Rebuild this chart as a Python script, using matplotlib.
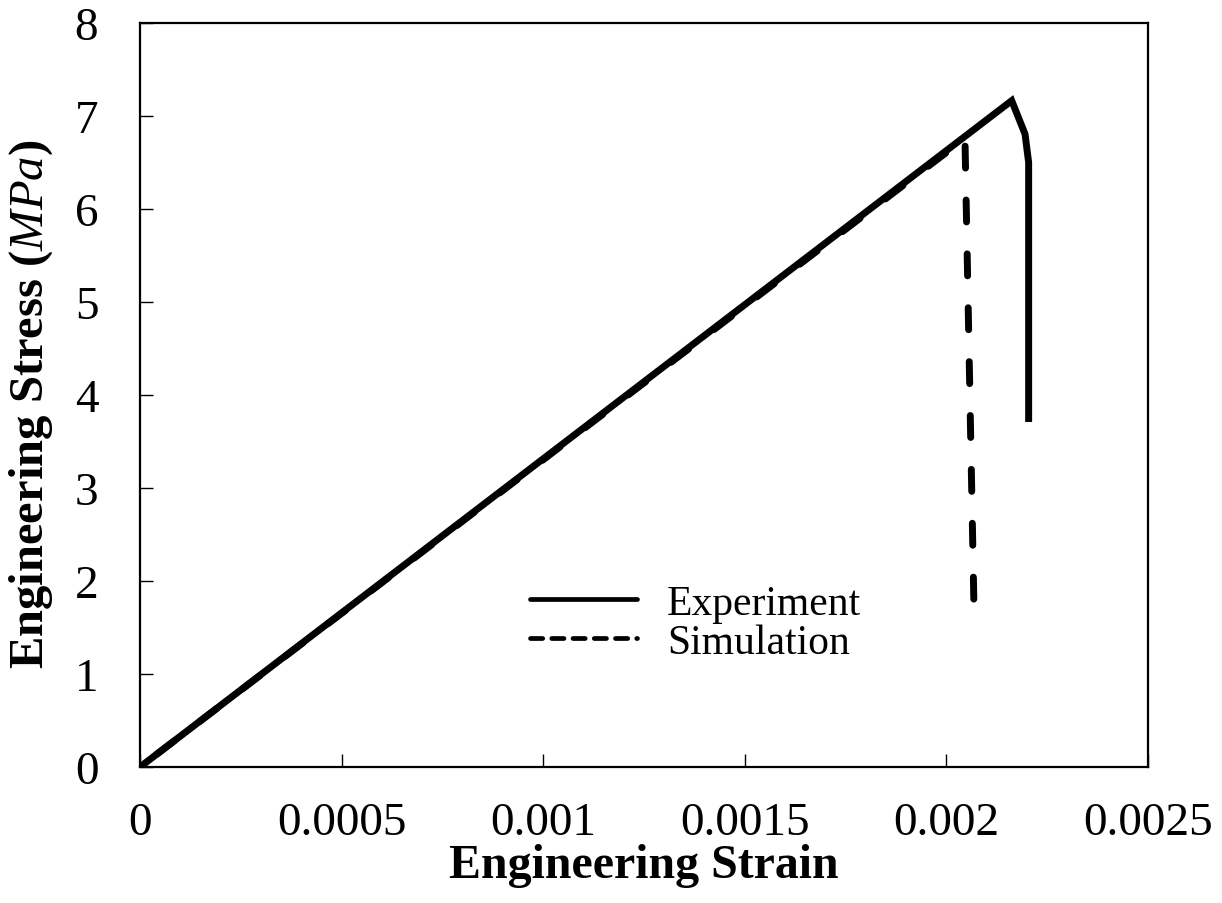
import matplotlib
matplotlib.use("Agg")
import matplotlib.pyplot as plt
from matplotlib.lines import Line2D

# Data
exp_strain = [0.0, 0.002162, 0.002195, 0.002204, 0.002204]
exp_stress = [0.0, 7.165, 6.806, 6.50, 3.71]
sim_strain = [0.0, 0.002046, 0.002068]
sim_stress = [0.0, 6.76, 1.80]
series_labels = ["Experiment", "Simulation"]
x_ticks = [0, 0.0005, 0.001, 0.0015, 0.002, 0.0025]
x_tick_labels = ["0", "0.0005", "0.001", "0.0015", "0.002", "0.0025"]
y_ticks = [0, 1, 2, 3, 4, 5, 6, 7, 8]

plt.rcParams["font.family"] = ["Liberation Serif", "DejaVu Serif"]
plt.rcParams["mathtext.fontset"] = "custom"
plt.rcParams["mathtext.rm"] = "Liberation Serif"
plt.rcParams["mathtext.it"] = "Liberation Serif:italic"
plt.rcParams["mathtext.bf"] = "Liberation Serif:bold"
plt.rcParams["lines.scale_dashes"] = False

fig = plt.figure(figsize=(12.22, 9.04), dpi=100)
ax = fig.add_axes([140/1222, 1-768/904, 1008/1222, 744/904])

ax.plot(sim_strain, sim_stress, color="black", lw=5, ls=(23.6, (15.8, 23)),
        dash_capstyle="round", zorder=2)
ax.plot(exp_strain, exp_stress, color="black", lw=5, solid_joinstyle="miter",
        solid_capstyle="butt", zorder=3)

ax.set_xlim(0, 0.0025)
ax.set_ylim(0, 8)
ax.set_xticks(x_ticks)
ax.set_xticklabels(x_tick_labels)
ax.set_yticks(y_ticks)

ax.tick_params(axis="both", direction="in", length=9.4, width=1.0,
               labelsize=34, top=False, right=False)
ax.tick_params(axis="x", pad=25)
ax.tick_params(axis="y", pad=30)
for s in ax.spines.values():
    s.set_linewidth(1.6)

ax.set_xlabel("Engineering Strain", fontsize=34.5, fontweight="bold")
ax.set_ylabel(r"Engineering Stress ($\mathit{MPa}$)", fontsize=35, fontweight="bold")
ax.xaxis.set_label_coords(0.5, -0.102)
ax.yaxis.set_label_coords(-0.084, 0.489)

handles = [
    Line2D([], [], color="black", lw=3.4, solid_capstyle="round"),
    Line2D([], [], color="black", lw=3.4, dashes=(8.8, 6.5), dash_capstyle="round"),
]
ax.legend(handles, series_labels, loc="center left",
          bbox_to_anchor=((530-140)/1008, (768-624)/744),
          frameon=False, fontsize=30, handlelength=2.57, handletextpad=0.72,
          labelspacing=0.02, borderpad=0, borderaxespad=0)

fig.savefig("out.png", dpi=100)
